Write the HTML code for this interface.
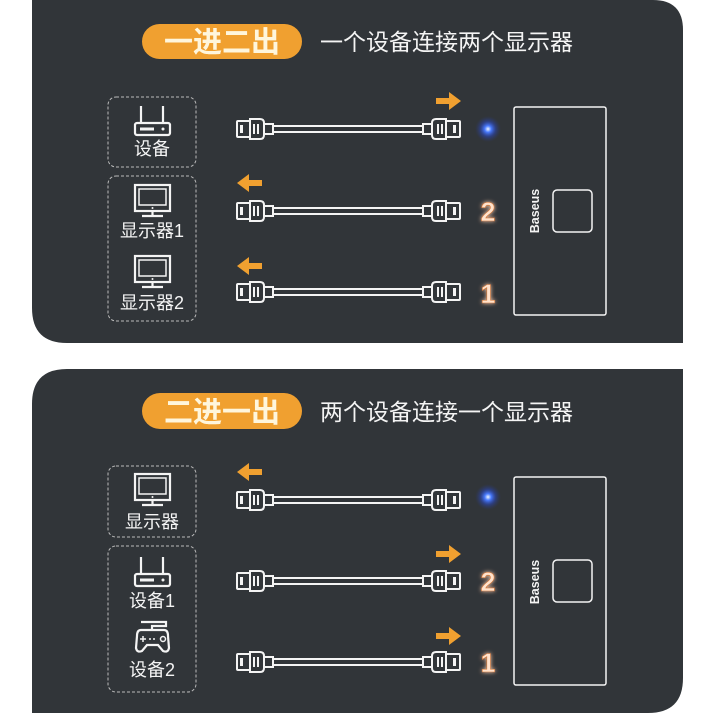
<!DOCTYPE html>
<html><head><meta charset="utf-8">
<style>
html,body{margin:0;padding:0;background:#fff;}
svg{display:block;}
text{font-family:"Liberation Sans","Noto Sans CJK SC",sans-serif;}
</style></head>
<body>
<svg width="715" height="715" viewBox="0 0 715 715" xmlns="http://www.w3.org/2000/svg">
<defs>
  <radialGradient id="blue" cx="50%" cy="50%" r="50%">
    <stop offset="0" stop-color="#f0f6ff"/>
    <stop offset="0.25" stop-color="#4a7cff"/>
    <stop offset="0.6" stop-color="#2a48c0" stop-opacity="0.5"/>
    <stop offset="1" stop-color="#2a3a80" stop-opacity="0"/>
  </radialGradient>
  <filter id="glow" x="-1" y="-1" width="3" height="3">
    <feGaussianBlur stdDeviation="2" result="b"/>
    <feMerge><feMergeNode in="b"/><feMergeNode in="SourceGraphic"/></feMerge>
  </filter>
  <g id="cable" fill="none" stroke="#f4f4f4" stroke-width="2">
    <rect x="237" y="-8" width="13" height="16" rx="1"/>
    <rect x="240" y="-4" width="3" height="8" fill="#f4f4f4" stroke="none"/>
    <path d="M250 -10 H260 Q264 -10 264 -6 V6 Q264 10 260 10 H250 Z"/>
    <line x1="254" y1="-5" x2="254" y2="5"/><line x1="258" y1="-5" x2="258" y2="5"/>
    <rect x="264" y="-5" width="9" height="10"/>
    <line x1="273" y1="-3" x2="423" y2="-3"/>
    <line x1="273" y1="3" x2="423" y2="3"/>
    <rect x="423" y="-5" width="9" height="10"/>
    <path d="M446 -10 H436 Q432 -10 432 -6 V6 Q432 10 436 10 H446 Z"/>
    <line x1="438" y1="-5" x2="438" y2="5"/><line x1="442" y1="-5" x2="442" y2="5"/>
    <rect x="446" y="-8" width="14" height="16" rx="1"/>
    <rect x="453" y="-4" width="3" height="8" fill="#f4f4f4" stroke="none"/>
  </g>
  <path id="arR" d="M0 -3 H13 V-9 L25 0 L13 9 V3 H0 Z" fill="#f0a030"/>
  <path id="arL" d="M25 -3 H12 V-9 L0 0 L12 9 V3 H25 Z" fill="#f0a030"/>
  <g id="router" fill="none" stroke="#f4f4f4" stroke-width="2.2">
    <line x1="141" y1="0" x2="141" y2="17"/><line x1="163" y1="0" x2="163" y2="17"/>
    <rect x="135" y="17" width="35" height="12" rx="2"/>
    <rect x="140" y="21.5" width="14" height="3" fill="#f4f4f4" stroke="none"/>
    <circle cx="163" cy="23" r="1.5" fill="#f4f4f4" stroke="none"/>
  </g>
  <g id="monitor" fill="none" stroke="#f4f4f4" stroke-width="2.2">
    <rect x="135" y="0" width="35" height="26"/>
    <rect x="139" y="4" width="27" height="16" stroke-width="1.5"/>
    <circle cx="152.5" cy="23" r="1" fill="#f4f4f4" stroke="none"/>
    <line x1="152.5" y1="26" x2="152.5" y2="30"/>
    <line x1="142" y1="31" x2="163" y2="31"/>
  </g>
</defs>

<!-- Panel 1 -->
<path d="M32 0 H653 Q683 0 683 30 V343 H67 Q32 343 32 308 Z" fill="#313539"/>
<rect x="142" y="24" width="160" height="35" rx="17.5" fill="#f0a030"/>
<text x="222" y="52" font-size="29" font-weight="bold" fill="#fff6dc" text-anchor="middle">一进二出</text>
<text x="320" y="50" font-size="23" fill="#f4f4f4" textLength="253">一个设备连接两个显示器</text>

<rect x="108" y="97" width="88" height="70" rx="8" fill="none" stroke="#bbb" stroke-width="1" stroke-dasharray="3,2"/>
<rect x="108" y="176" width="88" height="145" rx="8" fill="none" stroke="#bbb" stroke-width="1" stroke-dasharray="3,2"/>
<use href="#router" y="106"/>
<text x="152" y="155" font-size="18" fill="#f4f4f4" text-anchor="middle">设备</text>
<use href="#monitor" y="185"/>
<text x="152" y="237" font-size="18" fill="#f4f4f4" text-anchor="middle">显示器1</text>
<use href="#monitor" y="256"/>
<text x="152" y="309" font-size="18" fill="#f4f4f4" text-anchor="middle">显示器2</text>

<use href="#cable" y="129"/>
<use href="#cable" y="211"/>
<use href="#cable" y="292"/>
<use href="#arR" x="436" y="101"/>
<use href="#arL" x="237" y="183"/>
<use href="#arL" x="237" y="266"/>
<circle cx="488" cy="129" r="13" fill="url(#blue)"/>
<text x="488" y="221" font-size="27" font-weight="bold" fill="#ffe2cc" text-anchor="middle" filter="url(#glow)" style="stroke:#d0702a;stroke-width:0.6">2</text>
<text x="488" y="303" font-size="27" font-weight="bold" fill="#ffe2cc" text-anchor="middle" filter="url(#glow)" style="stroke:#d0702a;stroke-width:0.6">1</text>
<rect x="514" y="107" width="92" height="208" rx="2" fill="none" stroke="#f4f4f4" stroke-width="1.5"/>
<rect x="553" y="190" width="39" height="42" rx="4" fill="none" stroke="#f4f4f4" stroke-width="1.5"/>
<text transform="translate(539,211) rotate(-90)" font-size="12.5" font-weight="bold" fill="#f4f4f4" text-anchor="middle">Baseus</text>

<!-- Panel 2 -->
<path d="M67 369 H683 V678 Q683 713 648 713 H32 V404 Q32 369 67 369 Z" fill="#313539"/>
<rect x="142" y="393" width="160" height="36" rx="18" fill="#f0a030"/>
<text x="222" y="422" font-size="29" font-weight="bold" fill="#fff6dc" text-anchor="middle">二进一出</text>
<text x="320" y="420" font-size="23" fill="#f4f4f4" textLength="253">两个设备连接一个显示器</text>

<rect x="108" y="466" width="88" height="71" rx="8" fill="none" stroke="#bbb" stroke-width="1" stroke-dasharray="3,2"/>
<rect x="108" y="546" width="88" height="146" rx="8" fill="none" stroke="#bbb" stroke-width="1" stroke-dasharray="3,2"/>
<use href="#monitor" y="474"/>
<text x="152" y="528" font-size="18" fill="#f4f4f4" text-anchor="middle">显示器</text>
<use href="#router" y="557"/>
<text x="152" y="607" font-size="18" fill="#f4f4f4" text-anchor="middle">设备1</text>
<g fill="none" stroke="#f4f4f4" stroke-width="2.2">
  <path d="M141 630 Q137 630 137 636 L136 648 Q137 653 142 651 L147 645 H158 L163 651 Q168 653 169 648 L168 636 Q168 630 164 630 Z"/>
  <path d="M152 630 V626 H166 V622 H141"/>
  <line x1="140" y1="639" x2="146" y2="639" stroke-width="1.5"/><line x1="143" y1="636" x2="143" y2="642" stroke-width="1.5"/>
  <circle cx="163" cy="639" r="2.5" stroke-width="1.5"/>
</g>
<circle cx="150" cy="639" r="1" fill="#f4f4f4"/><circle cx="154" cy="639" r="1" fill="#f4f4f4"/>
<text x="152" y="676" font-size="18" fill="#f4f4f4" text-anchor="middle">设备2</text>

<use href="#cable" y="500"/>
<use href="#cable" y="581"/>
<use href="#cable" y="662"/>
<use href="#arL" x="237" y="472"/>
<use href="#arR" x="436" y="554"/>
<use href="#arR" x="436" y="636"/>
<circle cx="488" cy="497" r="13" fill="url(#blue)"/>
<text x="488" y="591" font-size="27" font-weight="bold" fill="#ffe2cc" text-anchor="middle" filter="url(#glow)" style="stroke:#d0702a;stroke-width:0.6">2</text>
<text x="488" y="672" font-size="27" font-weight="bold" fill="#ffe2cc" text-anchor="middle" filter="url(#glow)" style="stroke:#d0702a;stroke-width:0.6">1</text>
<rect x="514" y="477" width="92" height="208" rx="2" fill="none" stroke="#f4f4f4" stroke-width="1.5"/>
<rect x="553" y="560" width="39" height="42" rx="4" fill="none" stroke="#f4f4f4" stroke-width="1.5"/>
<text transform="translate(539,582) rotate(-90)" font-size="12.5" font-weight="bold" fill="#f4f4f4" text-anchor="middle">Baseus</text>
</svg>
</body></html>
